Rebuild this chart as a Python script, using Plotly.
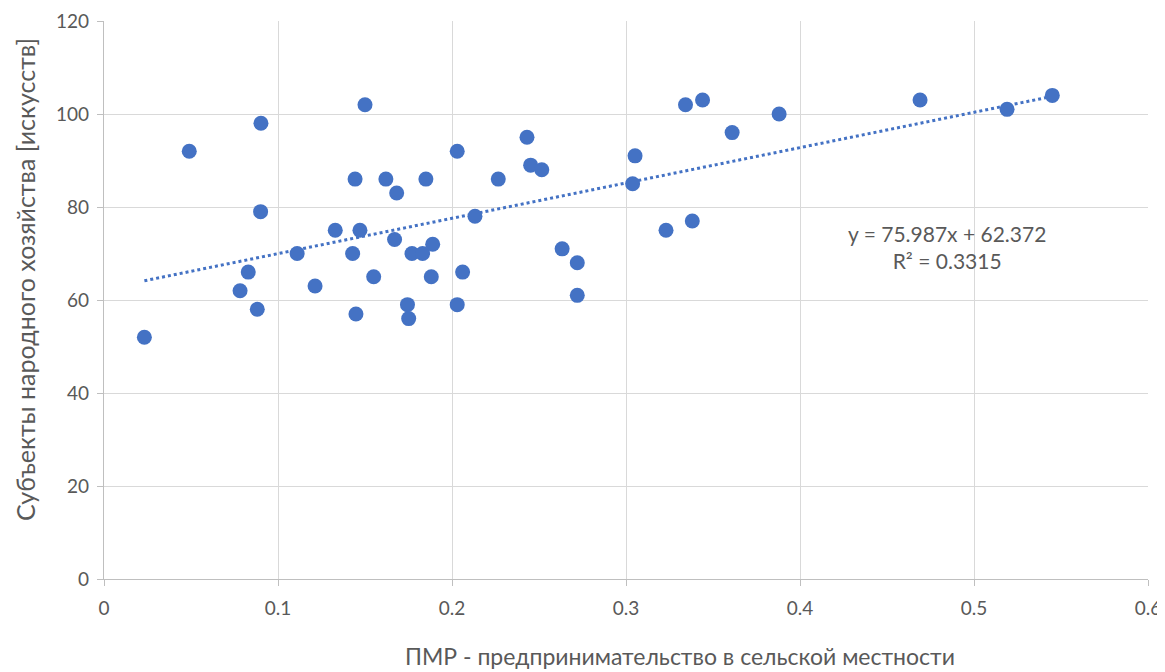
import plotly.graph_objects as go

x_pmr = [0.0232, 0.049, 0.0902, 0.090, 0.0829, 0.0782, 0.0881, 0.111, 0.1213, 0.1329,
         0.150, 0.1443, 0.1471, 0.1429, 0.1448, 0.155, 0.162, 0.1682, 0.167, 0.185,
         0.1744, 0.1751, 0.177, 0.1831, 0.1889, 0.1881, 0.203, 0.2061, 0.203, 0.2132,
         0.2266, 0.2431, 0.2452, 0.2516, 0.2633, 0.272, 0.272, 0.3052, 0.3038, 0.323,
         0.3381, 0.3342, 0.344, 0.361, 0.388, 0.469, 0.519, 0.545]
y_subj = [52, 92, 98, 79, 66, 62, 58, 70, 63, 75,
          102, 86, 75, 70, 57, 65, 86, 83, 73, 86,
          59, 56, 70, 70, 72, 65, 92, 66, 59, 78,
          86, 95, 89, 88, 71, 68, 61, 91, 85, 75,
          77, 102, 103, 96, 100, 103, 101, 104]

slope = 75.987
intercept = 62.372
r2 = 0.3315

x_ticks = [0, 0.1, 0.2, 0.3, 0.4, 0.5, 0.6]
y_ticks = [0, 20, 40, 60, 80, 100, 120]

x_title = "ПМР - предпринимательство в сельской местности"
y_title = "Субъекты народного хозяйства [искусств]"

blue = "#4472C4"
grey_text = "#595959"
font_family = "Lato, Open Sans, sans-serif"

# page body has an 8px margin; size the figure so the plot lands where the reference has it
OFF = 8
W, H = 1165 - OFF, 672 - OFF
L, R, T, B = 104 - OFF, 17, 21 - OFF, 93
pw, ph = W - L - R, H - T - B

fig = go.Figure()

x_line = [min(x_pmr), max(x_pmr)]
y_line = [slope * v + intercept for v in x_line]
fig.add_trace(go.Scatter(x=x_line, y=y_line, mode="lines",
                         line=dict(color=blue, width=3, dash="dot"),
                         hoverinfo="skip", showlegend=False))

fig.add_trace(go.Scatter(x=x_pmr, y=y_subj, mode="markers",
                         marker=dict(color=blue, size=15, line=dict(width=0)),
                         showlegend=False))

fig.add_annotation(x=0.4843, y=71.5, xref="x", yref="y",
                   text=f"y = {slope}x + {intercept}<br>R² = {r2}",
                   showarrow=False, align="center",
                   font=dict(family=font_family, size=21, color=grey_text))

# x-axis title: centred at page pixel (680, 656)
fig.add_annotation(x=(680 - 104) / pw, y=-(656 - 579) / ph, xref="paper", yref="paper",
                   text=x_title, showarrow=False, xanchor="center", yanchor="middle",
                   borderpad=0,
                   font=dict(family=font_family, size=23, color=grey_text))

# y-axis title: centred at page pixel (25, 280)
fig.add_annotation(x=-(104 - 25) / pw, y=(579 - 280) / ph, xref="paper", yref="paper",
                   text=y_title, showarrow=False, textangle=-90,
                   xanchor="center", yanchor="middle", borderpad=0,
                   font=dict(family=font_family, size=25, color=grey_text))

axis_common = dict(showgrid=True, gridcolor="#d9d9d9", gridwidth=1.3,
                   zeroline=False, showline=True, linecolor="#bfbfbf", linewidth=1.3,
                   ticks="outside", ticklen=6, tickcolor="#bfbfbf", tickwidth=1.3,
                   tickfont=dict(family=font_family, size=19, color=grey_text),
                   fixedrange=True, automargin=False)

fig.update_layout(
    width=W, height=H,
    margin=dict(l=L, r=R, t=T, b=B, autoexpand=False),
    paper_bgcolor="white", plot_bgcolor="white",
    font=dict(family=font_family, size=16, color=grey_text),
    xaxis=dict(range=[0, 0.6], tickvals=x_ticks, ticktext=[str(v) for v in x_ticks],
               ticklabelstandoff=6, **axis_common),
    yaxis=dict(range=[0, 120], tickvals=y_ticks, ticklabelstandoff=4, **axis_common),
)

fig.write_html("out.html")
